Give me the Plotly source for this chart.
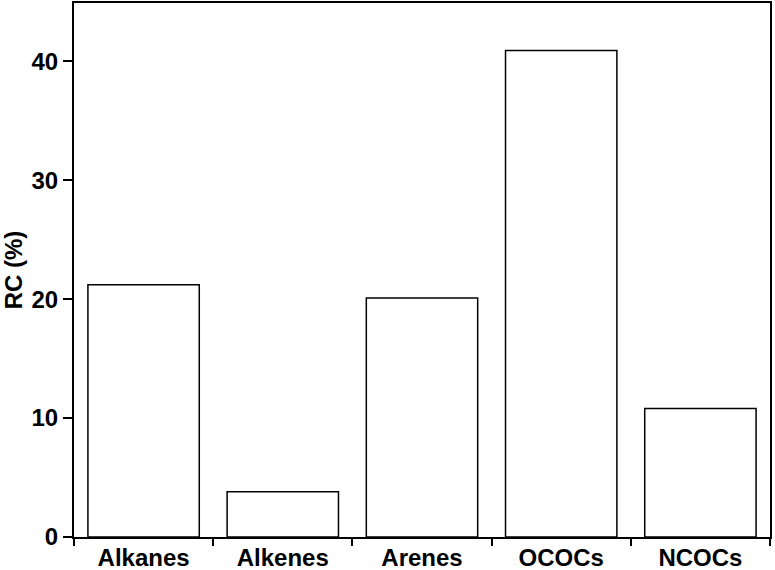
import plotly.graph_objects as go

categories = ["Alkanes", "Alkenes", "Arenes", "OCOCs", "NCOCs"]
rc_values = [21.2, 3.8, 20.1, 40.9, 10.8]
y_ticks = [0, 10, 20, 30, 40]

fig = go.Figure(go.Bar(
    x=categories, y=rc_values,
    marker=dict(color="white", line=dict(color="black", width=1.5)),
    width=0.8,
))

fnt = dict(family="Liberation Sans, Arial, sans-serif", size=24, color="black", weight="bold")

fig.update_layout(
    width=775, height=570,
    margin=dict(l=74, r=5, t=3, b=33),
    plot_bgcolor="white", paper_bgcolor="white",
    showlegend=False,
)
fig.update_xaxes(
    showline=True, linecolor="black", linewidth=2, mirror=True,
    ticks="outside", tickson="boundaries", ticklen=7, tickwidth=2, tickcolor="black",
    tickfont=fnt, ticklabelstandoff=-2,
    showgrid=False, automargin=False,
)
fig.update_yaxes(
    range=[0, 44.9],
    tickvals=y_ticks,
    showline=True, linecolor="black", linewidth=2, mirror=True,
    ticks="outside", ticklen=9, tickwidth=2, tickcolor="black",
    tickfont=fnt, ticklabelstandoff=0,
    showgrid=False, zeroline=False, automargin=False,
    title=dict(text="RC (%)", standoff=12, font=fnt),
)

fig.write_html(
    "out.html",
    config={"displayModeBar": False},
    post_script="document.body.style.margin='0';document.body.style.overflow='hidden';",
)
